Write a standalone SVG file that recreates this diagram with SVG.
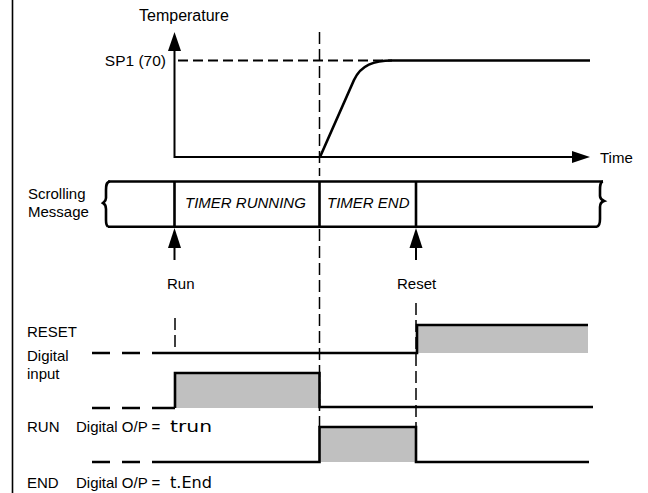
<svg xmlns="http://www.w3.org/2000/svg" width="648" height="493" viewBox="0 0 648 493">
<style>
text{font-family:"Liberation Sans",Arial,sans-serif;font-size:15px;fill:#000}
.it{font-style:italic}
.seg{font-family:"DejaVu Sans",sans-serif;font-size:16px}
.thick{fill:none;stroke:#000;stroke-width:2.6}
.axis{fill:none;stroke:#000;stroke-width:2}
.vdash{fill:none;stroke:#000;stroke-width:1.5;stroke-dasharray:12 5}
.hdash{fill:none;stroke:#000;stroke-width:2;stroke-dasharray:10 5}
.ldash{fill:none;stroke:#000;stroke-width:2.6}
.fill{fill:#c0c0c0;stroke:none}
.head{fill:#000;stroke:none}
</style>
<rect width="648" height="493" fill="#fff"/>
<line x1="12.5" y1="0" x2="12.5" y2="493" stroke="#000" stroke-width="1.6"/>

<g id="chart">
  <text x="139" y="21" style="font-size:16px">Temperature</text>
  <text x="166" y="66" text-anchor="end" style="font-size:15.5px">SP1 (70)</text>
  <text x="600" y="163">Time</text>
  <path class="hdash" d="M178,60.5H392"/>
  <path class="vdash" d="M319.5,32V176"/>
  <path class="axis" d="M174.5,50V157H573"/>
  <polygon class="head" points="174.5,32 168,51 181,51"/>
  <polygon class="head" points="590,157 572,151 572,163"/>
  <path class="thick" d="M320,157L354,80C361,65 374,60.5 392,60.5H590"/>
</g>

<g id="message">
  <text x="28" y="199">Scrolling</text>
  <text x="28" y="217">Message</text>
  <path class="thick" d="M108,181.5H603"/>
  <path class="thick" d="M108,226.7H597"/>
  <path class="thick" d="M110,181.5C106,182 106,186 106,190V198C106,201 104,202 103,203C105,204 106,206 106,209V220C106,224 107,226 108,226.7"/>
  <path class="thick" d="M603,181.5C600,182 600,186 600,190V196C600,199 602,200 604,201C601,202 600,204 600,207V219C600,223 599,226 597,226.7"/>
  <path class="thick" d="M174.5,181.5V226.7M319.5,181.5V226.7M416,181.5V226.7"/>
  <text class="it" x="185" y="208">TIMER RUNNING</text>
  <text class="it" x="327" y="208">TIMER END</text>
</g>

<g id="events">
  <polygon class="head" points="174.5,228 168,248 181,248"/>
  <line x1="174.5" y1="247" x2="174.5" y2="260" stroke="#000" stroke-width="2"/>
  <text x="167" y="289">Run</text>
  <polygon class="head" points="416,228 409.5,248 422.5,248"/>
  <line x1="416" y1="247" x2="416" y2="260" stroke="#000" stroke-width="2"/>
  <text x="397" y="289">Reset</text>
</g>

<g id="connectors">
  <path class="vdash" d="M319.5,229V427"/>
  <path class="vdash" d="M416,303V427"/>
  <path class="vdash" d="M175,318V352"/>
</g>

<g id="reset-input">
  <text x="27" y="337">RESET</text>
  <text x="27" y="361">Digital</text>
  <text x="27" y="379">input</text>
  <rect class="fill" x="417" y="325" width="171" height="28"/>
  <path class="ldash" d="M92,353H110M122,353H140M152,353H175"/>
  <path class="thick" d="M175,353H417V325H588"/>
  <rect class="fill" x="175" y="373" width="145" height="35"/>
  <path class="ldash" d="M92,408H110M122,408H140M152,408H175"/>
  <path class="thick" d="M175,408V373H319.5V407H593"/>
</g>

<g id="run-output">
  <text x="27" y="432">RUN<tspan x="76">Digital O/P =</tspan><tspan class="seg" x="170" textLength="42" lengthAdjust="spacingAndGlyphs">trun</tspan></text>
  <rect class="fill" x="319.5" y="427" width="96.5" height="35"/>
  <path class="ldash" d="M92,462H110M122,462H140M152,462H175"/>
  <path class="thick" d="M175,462H319.5V427H416V462H589"/>
</g>

<g id="end-output">
  <text x="27" y="488">END<tspan x="76">Digital O/P =</tspan><tspan class="seg" x="170" textLength="42" lengthAdjust="spacingAndGlyphs">t.End</tspan></text>
</g>
</svg>
